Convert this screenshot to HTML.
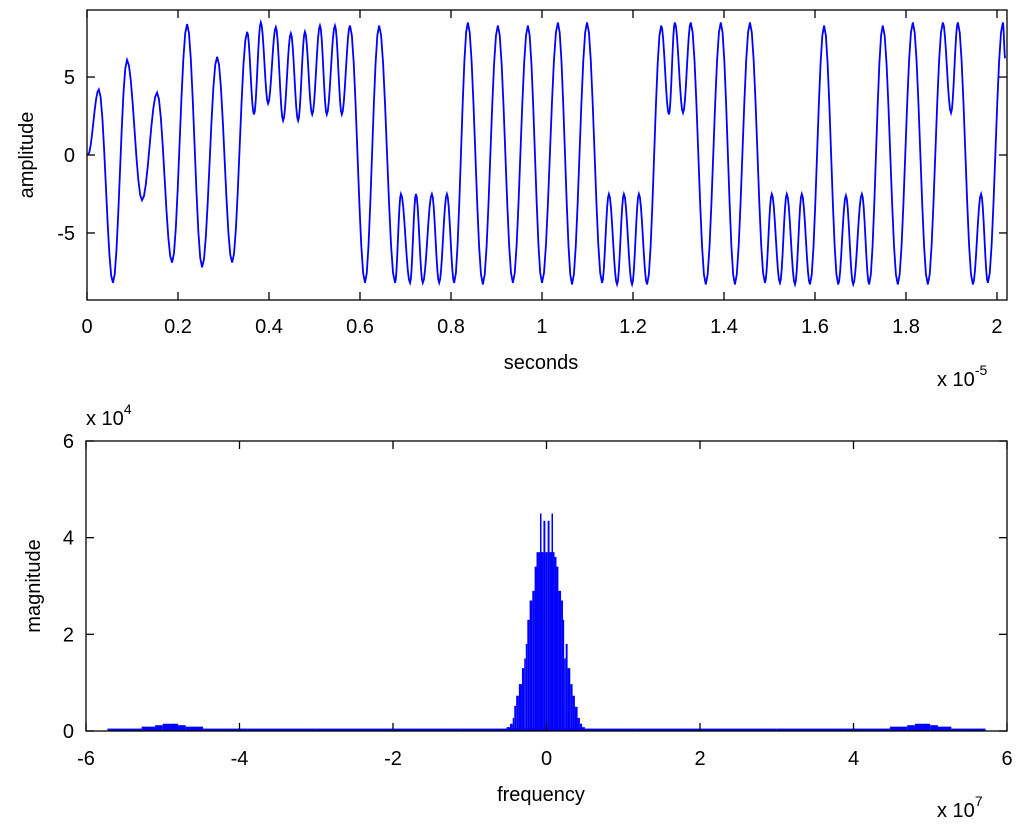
<!DOCTYPE html>
<html><head><meta charset="utf-8"><style>
body{margin:0;background:#fff;}
svg text{font-family:"Liberation Sans",Arial,sans-serif;fill:#000;}
</style></head><body>
<svg id="chart" width="1024" height="830" viewBox="0 0 1024 830" xmlns="http://www.w3.org/2000/svg">
<rect width="1024" height="830" fill="#fff"/>
<g id="topPlot"></g>
<g id="botPlot"></g>
</svg>
<script>
// time signal extrema (t in 1e-5 s, amplitude)
const sigT=[0.002,0.026,0.057,0.088,0.121,0.154,0.187,0.220,0.253,0.286,0.319,0.352,0.367,0.382,0.398,0.415,0.431,0.448,0.464,0.479,0.495,0.512,0.527,0.545,0.560,0.578,0.611,0.642,0.677,0.690,0.710,0.723,0.738,0.758,0.774,0.791,0.807,0.837,0.870,0.903,0.936,0.969,1.000,1.035,1.066,1.099,1.132,1.147,1.165,1.180,1.198,1.213,1.231,1.262,1.279,1.292,1.310,1.327,1.360,1.393,1.424,1.457,1.490,1.505,1.523,1.538,1.556,1.571,1.589,1.620,1.651,1.668,1.684,1.703,1.719,1.749,1.782,1.815,1.848,1.881,1.899,1.914,1.947,1.965,1.980,2.013,2.018];
const sigV=[0,4.2,-8.2,6.1,-2.9,4.0,-6.9,8.4,-7.2,6.3,-6.9,7.9,2.6,8.5,3.3,8.2,2.2,7.8,2.2,7.9,2.6,8.3,2.6,8.3,2.6,8.3,-8.2,8.3,-8.2,-2.5,-8.2,-2.5,-8.2,-2.5,-8.2,-2.5,-8.2,8.5,-8.3,8.3,-8.2,8.3,-8.2,8.5,-8.3,8.5,-8.2,-2.5,-8.3,-2.5,-8.3,-2.5,-8.3,8.3,2.6,8.5,2.7,8.5,-8.3,8.5,-8.3,8.5,-8.2,-2.5,-8.2,-2.5,-8.3,-2.5,-8.3,8.3,-8.3,-2.6,-8.3,-2.5,-8.3,8.3,-8.3,8.5,-8.3,8.5,2.7,8.5,-8.3,-2.5,-8.2,8.5,6.2];
const topXTicks=[0,0.2,0.4,0.6,0.8,1,1.2,1.4,1.6,1.8,2];
const topYTicks=[-5,0,5];
// spectrum (freq in 1e7, magnitude in 1e4)
const specF=[-0.50,-0.45,-0.43,-0.41,-0.38,-0.34,-0.30,-0.28,-0.26,-0.24,-0.20,-0.17,-0.14,-0.12,-0.09,-0.08,-0.05,-0.03,0,0.03,0.05,0.08,0.09,0.12,0.14,0.17,0.21,0.22,0.24,0.26,0.29,0.33,0.35,0.39,0.42,0.45,0.48];
const specM=[0.08,0.15,0.27,0.52,0.73,0.97,1.3,1.5,1.8,2.3,2.7,2.9,3.4,3.7,3.7,4.5,3.7,4.35,3.7,4.35,3.7,4.5,3.7,3.6,3.4,2.9,2.7,2.3,1.5,1.8,1.3,0.97,0.73,0.5,0.27,0.15,0.08];
const sideF=[-5.7,-5.4,-5.15,-5.05,-4.95,-4.85,-4.75,-4.65,-4.3,-3.5,-2.5,-1.5,-0.8,0.8,1.5,2.5,3.5,4.3,4.65,4.75,4.85,4.95,5.05,5.15,5.4,5.7];
const sideM=[0.05,0.05,0.09,0.12,0.15,0.15,0.12,0.09,0.05,0.05,0.05,0.05,0.05,0.05,0.05,0.05,0.05,0.05,0.09,0.12,0.15,0.15,0.12,0.09,0.05,0.05];
const botXTicks=[-6,-4,-2,0,2,4,6];
const botYTicks=[0,2,4,6];

const NS="http://www.w3.org/2000/svg";
function mk(parent,tag,attrs,txt){const e=document.createElementNS(NS,tag);for(const k in attrs)e.setAttribute(k,attrs[k]);if(txt!==undefined)e.textContent=txt;parent.appendChild(e);return e;}
function expLabel(parent,x,y,exp,name){
  const t=mk(parent,'text',{x:x,y:y,'font-size':20});
  
  
  mk(t,'tspan',{},'x 10');
  mk(t,'tspan',{dy:-11,'font-size':14},exp);
}
const FS=20;

// ---- top axes
const T={l:87,r:1007,t:10,b:300,x0:0,x1:2.022,y0:-9.3,y1:9.3};
const tx=v=>T.l+(v-T.x0)/(T.x1-T.x0)*(T.r-T.l);
const ty=v=>T.b-(v-T.y0)/(T.y1-T.y0)*(T.b-T.t);
const topG=document.getElementById('topPlot');
const nSig=Math.min(sigT.length,sigV.length);
let d='M'+tx(sigT[0])+','+ty(sigV[0]);
for(let i=1;i<nSig;i++){
  const a=sigT[i-1],b=sigT[i],va=sigV[i-1],vb=sigV[i];
  for(let k=1;k<=8;k++){const s=k/8;const w=(1-Math.cos(Math.PI*s))/2;d+=' L'+tx(a+(b-a)*s).toFixed(2)+','+ty(va+(vb-va)*w).toFixed(2);}
}
const ln=mk(topG,'path',{d:d,fill:'none',stroke:'#0000ff','stroke-width':1.8});


const tb=mk(topG,'rect',{x:T.l,y:T.t,width:T.r-T.l,height:T.b-T.t,fill:'none',stroke:'#000','stroke-width':1.3});


topXTicks.forEach(v=>{const x=tx(v);
  mk(topG,'line',{x1:x,x2:x,y1:T.b,y2:T.b-8,stroke:'#000','stroke-width':1.3});
  mk(topG,'line',{x1:x,x2:x,y1:T.t,y2:T.t+8,stroke:'#000','stroke-width':1.3});
  const t=mk(topG,'text',{x:x,y:333,'font-size':FS,'text-anchor':'middle'},String(v));
  
  });
topYTicks.forEach(v=>{const y=ty(v);
  mk(topG,'line',{x1:T.l,x2:T.l+8,y1:y,y2:y,stroke:'#000','stroke-width':1.3});
  mk(topG,'line',{x1:T.r,x2:T.r-8,y1:y,y2:y,stroke:'#000','stroke-width':1.3});
  const t=mk(topG,'text',{x:T.l-12,y:y+7,'font-size':FS,'text-anchor':'end'},String(v));
  
  });
let e=mk(topG,'text',{x:541,y:369,'font-size':FS,'text-anchor':'middle'},'seconds');


e=mk(topG,'text',{x:0,y:0,'font-size':FS,'text-anchor':'middle',transform:'translate(33,155) rotate(-90)'},'amplitude');


expLabel(topG,937,386,'-5','x-exponent-label');

// ---- bottom axes
const B={l:86,r:1007,t:441,b:731,x0:-6,x1:6,y0:0,y1:6};
const bx=v=>B.l+(v-B.x0)/(B.x1-B.x0)*(B.r-B.l);
const by=v=>B.b-(v-B.y0)/(B.y1-B.y0)*(B.b-B.t);
const botG=document.getElementById('botPlot');
function bars(F,M){
  for(let i=0;i<F.length;i++){
    const a=i>0?(F[i-1]+F[i])/2:F[i]-0.02, b=i<F.length-1?(F[i]+F[i+1])/2:F[i]+0.02;
    const x1=bx(a),x2=bx(b);
    const r=mk(botG,'rect',{x:x1,y:by(M[i]),width:Math.max(x2-x1,0.8),height:Math.max(by(0)-by(M[i]),0),fill:'#0000ff'});
    
    
  }
}
bars(sideF,sideM);
bars(specF,specM);
const bb=mk(botG,'rect',{x:B.l,y:B.t,width:B.r-B.l,height:B.b-B.t,fill:'none',stroke:'#000','stroke-width':1.3});


botXTicks.forEach(v=>{const x=bx(v);
  mk(botG,'line',{x1:x,x2:x,y1:B.b,y2:B.b-8,stroke:'#000','stroke-width':1.3});
  mk(botG,'line',{x1:x,x2:x,y1:B.t,y2:B.t+8,stroke:'#000','stroke-width':1.3});
  const t=mk(botG,'text',{x:x,y:765,'font-size':FS,'text-anchor':'middle'},String(v));
  
  });
botYTicks.forEach(v=>{const y=by(v);
  mk(botG,'line',{x1:B.l,x2:B.l+8,y1:y,y2:y,stroke:'#000','stroke-width':1.3});
  mk(botG,'line',{x1:B.r,x2:B.r-8,y1:y,y2:y,stroke:'#000','stroke-width':1.3});
  const t=mk(botG,'text',{x:B.l-12,y:y+7,'font-size':FS,'text-anchor':'end'},String(v));
  
  });
e=mk(botG,'text',{x:541,y:801,'font-size':FS,'text-anchor':'middle'},'frequency');


e=mk(botG,'text',{x:0,y:0,'font-size':FS,'text-anchor':'middle',transform:'translate(40,586) rotate(-90)'},'magnitude');


expLabel(botG,937,817,'7','x-exponent-label');
expLabel(botG,86,425,'4','y-exponent-label');
</script>
</body></html>
